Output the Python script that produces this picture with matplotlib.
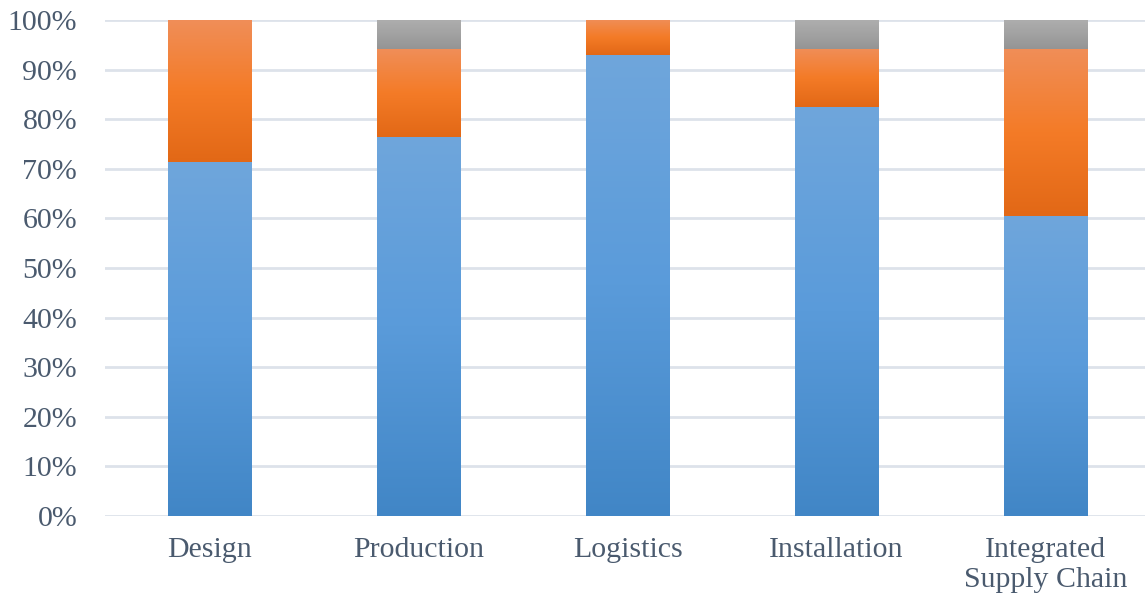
import matplotlib.pyplot as plt
import numpy as np
from matplotlib.colors import LinearSegmentedColormap
from matplotlib.ticker import PercentFormatter

categories = ['Design', 'Production', 'Logistics', 'Installation', 'Integrated\nSupply Chain']
blue_vals = [71.4, 76.5, 92.9, 82.4, 60.4]
orange_vals = [28.6, 17.6, 7.1, 11.8, 33.7]
gray_vals = [0.0, 5.9, 0.0, 5.8, 5.9]

# gradient stops, bottom -> top
blue_cmap = LinearSegmentedColormap.from_list('b', ['#4186C6', '#5A9BDA', '#6FA6DC'])
orange_cmap = LinearSegmentedColormap.from_list('o', ['#E26816', '#F47B27', '#F08E58'])
gray_cmap = LinearSegmentedColormap.from_list('g', ['#949494', '#A2A2A2', '#AEAEAE'])

plt.rcParams['font.family'] = ['Liberation Serif', 'DejaVu Serif']

fig = plt.figure(figsize=(11.45, 6.05), dpi=100)
ax = fig.add_axes([105 / 1145, 89 / 605, 1045 / 1145, 496 / 605])

x = np.arange(len(categories))
grad = np.linspace(0, 1, 256).reshape(-1, 1)


def gradient_bars(values, bottoms, cmap):
    bars = ax.bar(x, values, width=0.4, bottom=bottoms, color='none',
                  edgecolor='none', zorder=2)
    for patch in bars:
        h = patch.get_height()
        if h <= 0:
            continue
        x0 = patch.get_x()
        w = patch.get_width()
        y0 = patch.get_y()
        im = ax.imshow(grad, cmap=cmap, aspect='auto', origin='lower',
                       extent=[x0, x0 + w, y0, y0 + h], zorder=2,
                       interpolation='bicubic')
        im.set_clip_path(patch)
    return bars


b1 = np.array(blue_vals)
b2 = b1 + np.array(orange_vals)
gradient_bars(blue_vals, 0, blue_cmap)
gradient_bars(orange_vals, b1, orange_cmap)
gradient_bars(gray_vals, b2, gray_cmap)

ax.set_xlim(-0.5, len(categories) - 0.5)
ax.set_ylim(0, 100)
ax.set_yticks(np.arange(0, 101, 10))
ax.yaxis.set_major_formatter(PercentFormatter(decimals=0))
ax.set_xticks(x)
ax.set_xticklabels(categories, linespacing=1.2)

ax.grid(axis='y', color='#DDE2EA', linewidth=2, zorder=0)
ax.set_axisbelow(True)
for s in ax.spines.values():
    s.set_visible(False)
ax.tick_params(axis='both', length=0, labelsize=21.5, colors='#4A5A6E')
ax.tick_params(axis='y', pad=20)
ax.tick_params(axis='x', pad=15)

fig.savefig('out.png', dpi=100)
